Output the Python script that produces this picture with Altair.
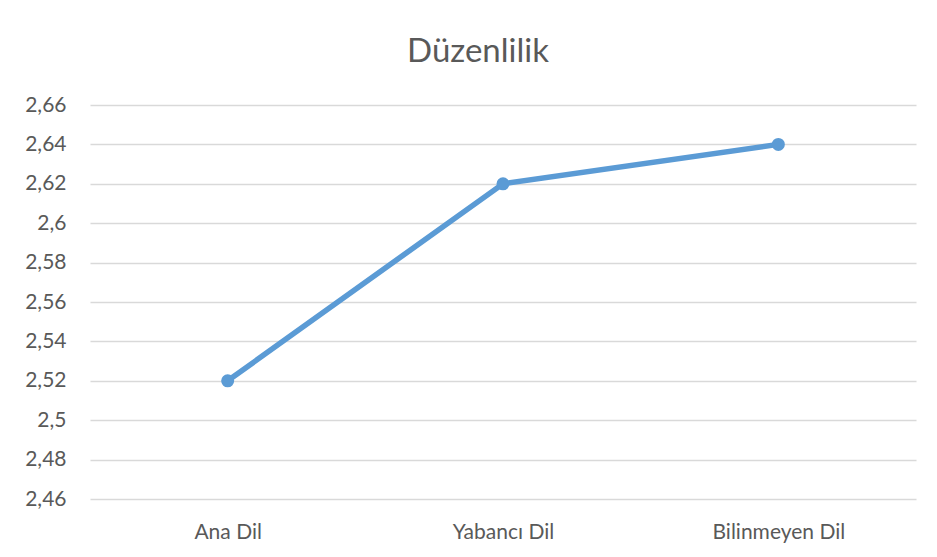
import altair as alt
import pandas as pd

title_text = "Düzenlilik"
categories = ["Ana Dil", "Yabancı Dil", "Bilinmeyen Dil"]
values = [2.52, 2.62, 2.64]
y_ticks = [2.46, 2.48, 2.50, 2.52, 2.54, 2.56, 2.58, 2.60, 2.62, 2.64, 2.66]

df = pd.DataFrame({"kategori": categories, "deger": values})

FONT = "Lato"
TXT = "#595959"
GRID = "#D9D9D9"
BLUE = "#5B9BD5"

x_enc = alt.X(
    "kategori:N",
    sort=categories,
    scale=alt.Scale(paddingInner=0, paddingOuter=0),
    axis=alt.Axis(
        title=None, labelAngle=0, domain=False, ticks=False, grid=False,
        labelFont=FONT, labelFontSize=21, labelColor=TXT,
        labelBaseline="alphabetic", labelPadding=39,
    ),
)
y_enc = alt.Y(
    "deger:Q",
    scale=alt.Scale(domain=[2.46, 2.66], nice=False, zero=False),
    axis=alt.Axis(
        title=None, values=y_ticks, domain=False, ticks=False,
        grid=True, gridColor=GRID, gridWidth=1.3,
        labelFont=FONT, labelFontSize=21, labelColor=TXT,
        labelPadding=24,
        labelExpr="replace(format(datum.value, '.2~f'), '.', ',')",
    ),
)

line = alt.Chart(df).mark_line(
    color=BLUE, strokeWidth=5.5,
    point=alt.OverlayMarkDef(color=BLUE, size=170, filled=True, opacity=1),
).encode(x=x_enc, y=y_enc)

title = alt.Chart(alt.Data(values=[{"t": title_text}])).mark_text(
    font=FONT, fontSize=33, color=TXT, align="center", baseline="alphabetic"
).encode(text="t:N", x=alt.value(388), y=alt.value(-43))

chart = alt.layer(line, title).properties(
    width=826,
    height=394,
    autosize=alt.AutoSizeParams(type="none"),
    padding={"left": 82, "top": 97, "right": 13, "bottom": 50},
).configure_view(strokeWidth=0)

chart.save("out.html", embed_options={"renderer": "svg", "actions": False})
